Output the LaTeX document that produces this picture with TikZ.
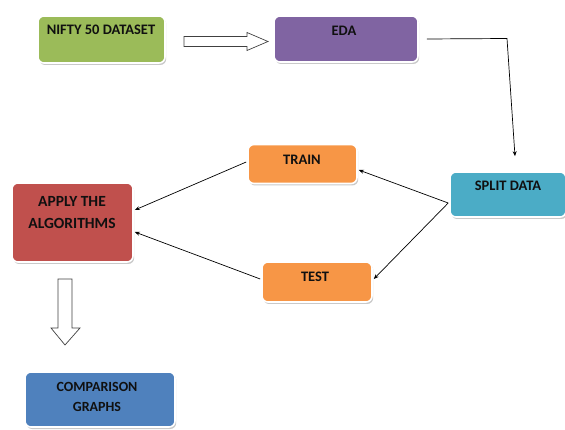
\documentclass[tikz,border=0pt]{standalone}
\usepackage{fontspec}
\setmainfont{Carlito}[BoldFont={Carlito Bold}]
\usetikzlibrary{shadows,arrows.meta}
\definecolor{offgreen}{HTML}{9BBB59}
\definecolor{offpurple}{HTML}{8064A2}
\definecolor{offteal}{HTML}{4BACC6}
\definecolor{offorange}{HTML}{F79646}
\definecolor{offred}{HTML}{C0504D}
\definecolor{offblue}{HTML}{4F81BD}
\definecolor{inktext}{HTML}{101010}
\begin{document}
\begin{tikzpicture}[x=1pt,y=-1pt,
  box/.style={rectangle, rounded corners=6pt, draw=white, line width=1.6pt,
    drop shadow={shadow xshift=1.2pt, shadow yshift=-2pt, fill=black!30, opacity=0.7},
    inner sep=0pt},
  lbl/.style={font=\bfseries\fontsize{14.5}{16}\selectfont, text=inktext, align=center, inner sep=0pt},
  link/.style={draw=black, line width=0.7pt, -{Stealth[length=5pt,width=4pt]}},
  blockarrow/.style={draw=black!75, fill=white, line width=0.7pt, line join=miter}]
  \useasboundingbox (0,0) rectangle (565,430);

  % process boxes
  \node[box, fill=offgreen, minimum width=127pt, minimum height=47pt] (nifty) at (101.5,39.5) {};
  \node[lbl] (niftyt) at (101,30) {NIFTY 50 DATASET};

  \node[box, fill=offpurple, minimum width=144pt, minimum height=46pt] (eda) at (346,39) {};
  \node[lbl] (edat) at (344,31) {EDA};

  \node[box, fill=offteal, minimum width=116pt, minimum height=45pt] (split) at (508,194.5) {};
  \node[lbl] (splitt) at (508,186) {SPLIT DATA};

  \node[box, fill=offorange, minimum width=109pt, minimum height=39pt] (train) at (302.5,164) {};
  \node[lbl] (traint) at (302,160) {TRAIN};

  \node[box, fill=offorange, minimum width=110pt, minimum height=40pt] (test) at (317,282) {};
  \node[lbl] (testt) at (315,277) {TEST};

  \node[box, fill=offred, minimum width=121pt, minimum height=79pt] (apply) at (72.5,222.5) {};
  \node[lbl, font=\bfseries\fontsize{15.5}{17}\selectfont] (applyt) at (72,213) {APPLY THE\\[5pt]ALGORITHMS};

  \node[box, fill=offblue, minimum width=150pt, minimum height=55pt] (comp) at (100,399.5) {};
  \node[lbl, font=\bfseries\fontsize{14}{15}\selectfont] (compt) at (97,397) {COMPARISON\\[5pt]GRAPHS};

  % hollow block arrows
  \coordinate (a1) at (184,41.5);
  \draw[blockarrow] (a1) ++(0,-5) -- ++(63,0) -- ++(0,-4) -- (268,41.5) -- (247,50.5) -- ++(0,-4) -- ++(-63,0) -- cycle;

  \coordinate (a2) at (65,279);
  \draw[blockarrow] (a2) ++(-7,0) -- ++(14,0) -- ++(0,49) -- ++(8,0) -- (65,345) -- (51,328) -- ++(7,0) -- cycle;

  % connectors
  \coordinate (bend) at (507,38.5);
  \draw[link] ([xshift=8pt]eda.east) -- (bend) -- ([xshift=7pt,yshift=15pt]split.north);
  \draw[link] ([xshift=-1pt,yshift=-8.5pt]split.west) -- ([xshift=1pt,yshift=-6pt]train.east);
  \draw[link] ([xshift=-1pt,yshift=-8.5pt]split.west) -- ([xshift=1pt,yshift=3pt]test.east);
  \draw[link] ([xshift=-1pt,yshift=2pt]train.west) -- ([xshift=1pt,yshift=12.5pt]apply.east);
  \draw[link] ([xshift=-1pt,yshift=3pt]test.west) -- ([xshift=1pt,yshift=-9.5pt]apply.east);
\end{tikzpicture}
\end{document}
